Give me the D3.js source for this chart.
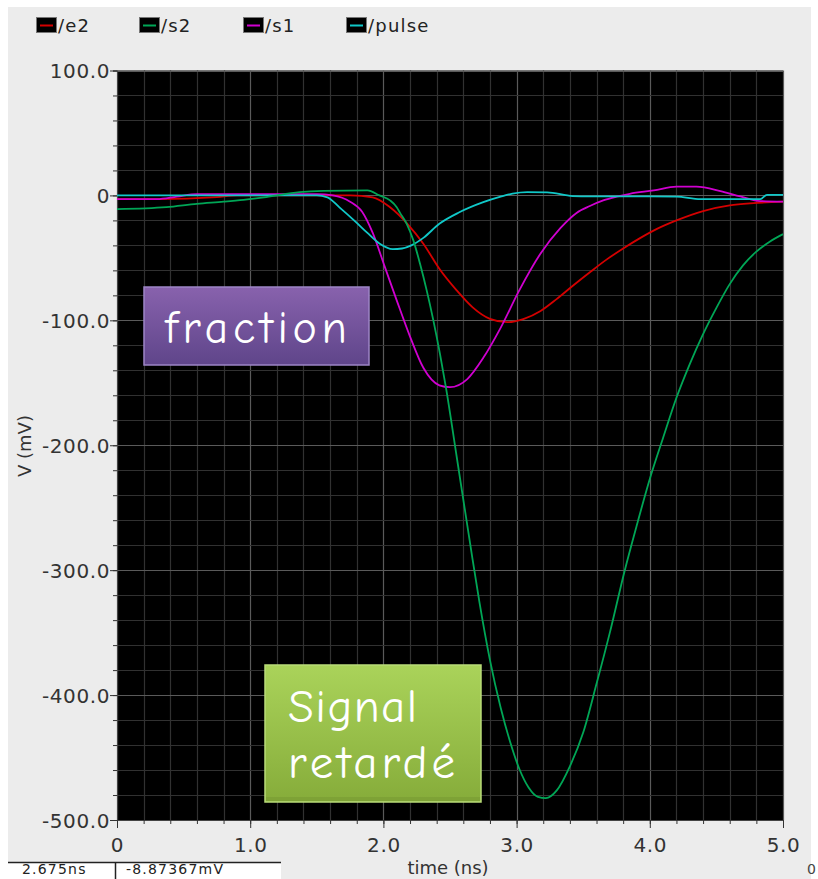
<!DOCTYPE html>
<html>
<head>
<meta charset="utf-8">
<script src="https://cdn.jsdelivr.net/npm/d3@7"></script>
<style>
  html, body { margin: 0; padding: 0; background: #ffffff; }
  svg { display: block; }
</style>
</head>
<body>
<svg id="chart" width="818" height="879"></svg>
<script>
// ---------- data ----------
const seriesNames = ["/e2", "/s2", "/s1", "/pulse"];
const seriesColors = ["#d40000", "#00a656", "#d000d0", "#10c8c8"];

// /e2 (red)
const e2Time = [0, 0.3, 0.75, 0.9, 1.58, 1.75, 1.92, 2.05, 2.18, 2.30, 2.42, 2.55, 2.67, 2.80, 2.93, 3.05, 3.18, 3.30, 3.42, 3.55, 3.68, 3.80, 3.93, 4.05, 4.2, 4.4, 4.6, 4.78, 5.0];
const e2Volt = [-3, -3, -1.3, 0, 0, 0, -1.5, -9.5, -22.7, -38.7, -58.7, -76, -89.6, -98.8, -101.5, -99, -92.5, -83, -72.5, -61.5, -51, -42.5, -34, -27, -20, -12.5, -8, -6.2, -5];

// /s2 (green)
const s2Time = [0, 0.37, 0.6, 0.8, 0.95, 1.12, 1.37, 1.55, 1.88, 1.97, 2.05, 2.10, 2.125, 2.175, 2.225, 2.275, 2.325, 2.375, 2.425, 2.47, 2.55, 2.65, 2.72, 2.80, 2.88, 2.95, 3.02, 3.09, 3.16, 3.22, 3.30, 3.40, 3.50, 3.60, 3.70, 3.81, 3.90, 4.0, 4.1, 4.2, 4.3, 4.4, 4.5, 4.6, 4.7, 4.8, 4.9, 5.0];
const s2Volt = [-11, -9.4, -6.7, -5, -3.5, -1.3, 2.7, 3.7, 4, 0, -4, -9.4, -14, -22.7, -36, -54.7, -76, -100, -127, -154, -209, -278, -325, -372, -410, -437, -459, -474, -481.5, -482.5, -476.5, -457, -430, -391, -350, -301, -265, -227, -194, -162, -135, -111, -90, -71, -56, -45, -37, -31];

// /s1 (magenta)
const s1Time = [0, 0.3, 0.45, 0.6, 1.0, 1.5, 1.62, 1.75, 1.84, 1.92, 2.01, 2.10, 2.20, 2.30, 2.42, 2.50, 2.63, 2.75, 2.88, 3.02, 3.18, 3.33, 3.45, 3.55, 3.65, 3.75, 3.85, 4.03, 4.2, 4.35, 4.53, 4.68, 4.83, 5.0];
const s1Volt = [-3, -3, -1, 1, 1, 1, 0, -5, -13, -30, -57, -84, -113, -138, -152, -153.5, -147, -130, -106, -76, -46.5, -26, -14, -8.5, -4, -1, 1.3, 4, 7, 7, 3.5, -0.8, -4.5, -5];

// /pulse (cyan)
const pulseTime = [0, 0.5, 1.0, 1.5, 1.58, 1.67, 1.79, 1.88, 1.97, 2.07, 2.14, 2.21, 2.30, 2.42, 2.57, 2.75, 2.88, 2.97, 3.08, 3.23, 3.42, 3.55, 3.8, 4.0, 4.2, 4.38, 4.6, 4.83, 4.88, 5.0];
const pulseVolt = [0, 0, 0, 0, -1.5, -9.6, -21, -30, -38.5, -43, -42.5, -40, -34, -22.7, -13.5, -5.4, -1, 1.5, 2.7, 2.5, -0.5, -0.8, -0.8, -0.8, -1, -3, -3, -3, 0.5, 0.5];

const xMajorTicks = [0, 1, 2, 3, 4, 5];
const xTickLabels = ["0", "1.0", "2.0", "3.0", "4.0", "5.0"];
const yMajorTicks = [100, 0, -100, -200, -300, -400, -500];
const yTickLabels = ["100.0", "0", "-100.0", "-200.0", "-300.0", "-400.0", "-500.0"];

const cursorLabels = ["2.675ns", "-8.87367mV"];

// ---------- drawing ----------
const svg = d3.select("#chart");
const plot = { left: 117, right: 783, top: 70.5, bottom: 820 };

const x = d3.scaleLinear().domain([0, 5]).range([plot.left, plot.right]);
const y = d3.scaleLinear().domain([-500, 100]).range([plot.bottom, plot.top]);

const font = "'DejaVu Sans', sans-serif";

// panel background
svg.append("rect").attr("x", 8).attr("y", 7).attr("width", 803).attr("height", 872).attr("fill", "#ececec");

// plot area
svg.append("rect")
  .attr("x", plot.left).attr("y", plot.top)
  .attr("width", plot.right - plot.left).attr("height", plot.bottom - plot.top)
  .attr("fill", "#000");

// grid
const xMinor = d3.range(0, 26).map(i => i * 0.2);
const yMinor = d3.range(0, 31).map(i => 100 - i * 20);
const grid = svg.append("g");
grid.selectAll(".gx").data(xMinor).join("line")
  .attr("x1", d => Math.round(x(d)) + 0.5).attr("x2", d => Math.round(x(d)) + 0.5)
  .attr("y1", plot.top).attr("y2", plot.bottom)
  .attr("stroke", (d, i) => i % 5 === 0 ? "#5a5a5a" : "#313131").attr("stroke-width", 1.2);
grid.selectAll(".gy").data(yMinor).join("line")
  .attr("y1", d => Math.round(y(d)) + 0.5).attr("y2", d => Math.round(y(d)) + 0.5)
  .attr("x1", plot.left).attr("x2", plot.right)
  .attr("stroke", (d, i) => i % 5 === 0 ? "#5a5a5a" : "#313131").attr("stroke-width", 1.2);

// axes
const yAxisMinor = d3.axisLeft(y).tickValues(yMinor).tickSize(4).tickFormat("");
svg.append("g").attr("transform", `translate(${plot.left},0)`).call(yAxisMinor)
  .call(g => g.select(".domain").attr("stroke", "#444"))
  .call(g => g.selectAll(".tick line").attr("stroke", "#333"));
const yAxis = d3.axisLeft(y).tickValues(yMajorTicks).tickSize(7)
  .tickFormat((d, i) => yTickLabels[i]);
svg.append("g").attr("transform", `translate(${plot.left},0)`).call(yAxis)
  .call(g => g.select(".domain").remove())
  .call(g => g.selectAll(".tick line").attr("stroke", "#333"))
  .call(g => g.selectAll(".tick text").attr("font-family", font).attr("font-size", 20)
    .attr("fill", "#333").attr("letter-spacing", "0.6px").attr("x", -7).attr("dy", "0.36em"));

const xAxisMinor = d3.axisBottom(x).tickValues(xMinor).tickSize(4).tickFormat("");
svg.append("g").attr("transform", `translate(0,${plot.bottom})`).call(xAxisMinor)
  .call(g => g.select(".domain").attr("stroke", "#444"))
  .call(g => g.selectAll(".tick line").attr("stroke", "#333"));
const xAxis = d3.axisBottom(x).tickValues(xMajorTicks).tickSize(8)
  .tickFormat((d, i) => xTickLabels[i]);
svg.append("g").attr("transform", `translate(0,${plot.bottom})`).call(xAxis)
  .call(g => g.select(".domain").remove())
  .call(g => g.selectAll(".tick line").attr("stroke", "#333"))
  .call(g => g.selectAll(".tick text").attr("font-family", font).attr("font-size", 20)
    .attr("fill", "#333").attr("letter-spacing", "0.6px").attr("y", 18).attr("dy", "0.71em"));

// axis titles
svg.append("text").attr("transform", "translate(31,446) rotate(-90)")
  .attr("text-anchor", "middle").attr("font-family", font).attr("font-size", 18)
  .attr("fill", "#333").text("V (mV)");
svg.append("text").attr("x", 448).attr("y", 874)
  .attr("text-anchor", "middle").attr("font-family", font).attr("font-size", 18)
  .attr("fill", "#333").text("time (ns)");

// curves
svg.append("clipPath").attr("id", "clip").append("rect")
  .attr("x", plot.left).attr("y", plot.top)
  .attr("width", plot.right - plot.left).attr("height", plot.bottom - plot.top);

const series = [
  { t: e2Time, v: e2Volt },
  { t: s2Time, v: s2Volt },
  { t: s1Time, v: s1Volt },
  { t: pulseTime, v: pulseVolt }
];
const line = d3.line().x(d => x(d[0])).y(d => y(d[1])).curve(d3.curveMonotoneX);
const curves = svg.append("g").attr("clip-path", "url(#clip)");
[0, 2, 3, 1].forEach(i => {
  const s = series[i];
  curves.append("path")
    .datum(s.t.map((t, k) => [t, s.v[k]]))
    .attr("fill", "none").attr("stroke", seriesColors[i]).attr("stroke-width", 1.8)
    .attr("d", line);
});

// legend
const legendX = [36, 139, 243, 346];
const legend = svg.append("g");
seriesNames.forEach((name, i) => {
  const g = legend.append("g").attr("transform", `translate(${legendX[i]},17)`);
  g.append("rect").attr("x", 0.5).attr("y", 0.5).attr("width", 20).attr("height", 15)
    .attr("fill", "#000").attr("stroke", "#777");
  g.append("line").attr("x1", 4).attr("x2", 17).attr("y1", 8.5).attr("y2", 8.5)
    .attr("stroke", seriesColors[i]).attr("stroke-width", 2);
  g.append("text").attr("x", 22).attr("y", 14.5).attr("font-family", font).attr("font-size", 18)
    .attr("letter-spacing", "1.2px").attr("fill", "#222").text(name);
});

// annotation boxes
const defs = svg.append("defs");
const gp = defs.append("linearGradient").attr("id", "purpleGrad").attr("x1", 0).attr("x2", 0).attr("y1", 0).attr("y2", 1);
gp.append("stop").attr("offset", "0%").attr("stop-color", "#8862ad");
gp.append("stop").attr("offset", "100%").attr("stop-color", "#5f458a");
const gg = defs.append("linearGradient").attr("id", "greenGrad").attr("x1", 0).attr("x2", 0).attr("y1", 0).attr("y2", 1);
gg.append("stop").attr("offset", "0%").attr("stop-color", "#aad35a");
gg.append("stop").attr("offset", "100%").attr("stop-color", "#86ac3a");

svg.append("rect").attr("x", 144).attr("y", 287).attr("width", 225).attr("height", 78)
  .attr("fill", "url(#purpleGrad)").attr("stroke", "#9d85c6").attr("stroke-width", 1.5);
svg.append("text").attr("x", 165).attr("y", 343)
  .attr("font-family", "'Comic Sans MS', 'Comic Neue', Lato, sans-serif").attr("font-size", 46)
  .attr("textLength", 182).attr("lengthAdjust", "spacing")
  .attr("fill", "#fff").text("fraction");

svg.append("rect").attr("x", 265).attr("y", 665).attr("width", 216).attr("height", 137)
  .attr("fill", "url(#greenGrad)").attr("stroke", "#b9dc78").attr("stroke-width", 1.5);
svg.append("rect").attr("x", 266).attr("y", 797).attr("width", 214).attr("height", 4)
  .attr("fill", "#7a9c34").attr("opacity", 0.7);
svg.append("text").attr("x", 288).attr("y", 722)
  .attr("font-family", "'Comic Sans MS', 'Comic Neue', Lato, sans-serif").attr("font-size", 47)
  .attr("textLength", 129).attr("lengthAdjust", "spacing")
  .attr("fill", "#fff").text("Signal");
svg.append("text").attr("x", 288).attr("y", 778)
  .attr("font-family", "'Comic Sans MS', 'Comic Neue', Lato, sans-serif").attr("font-size", 47)
  .attr("textLength", 167).attr("lengthAdjust", "spacing")
  .attr("fill", "#fff").text("retardé");

// cursor read-out at the bottom edge
svg.append("rect").attr("x", 8).attr("y", 862).attr("width", 273).attr("height", 17).attr("fill", "#fff");
svg.append("line").attr("x1", 8).attr("x2", 281).attr("y1", 862.5).attr("y2", 862.5).attr("stroke", "#222").attr("stroke-width", 1.5);
svg.append("line").attr("x1", 115.5).attr("x2", 115.5).attr("y1", 862).attr("y2", 879).attr("stroke", "#222").attr("stroke-width", 1.5);
svg.append("text").attr("x", 22).attr("y", 874).attr("font-family", font).attr("font-size", 14)
  .attr("letter-spacing", "1.2px").attr("fill", "#222").text(cursorLabels[0]);
svg.append("text").attr("x", 126).attr("y", 874).attr("font-family", font).attr("font-size", 14)
  .attr("letter-spacing", "1.2px").attr("fill", "#222").text(cursorLabels[1]);
svg.append("text").attr("x", 807).attr("y", 874).attr("font-family", font).attr("font-size", 14)
  .attr("fill", "#444").text("0");
</script>
</body>
</html>
